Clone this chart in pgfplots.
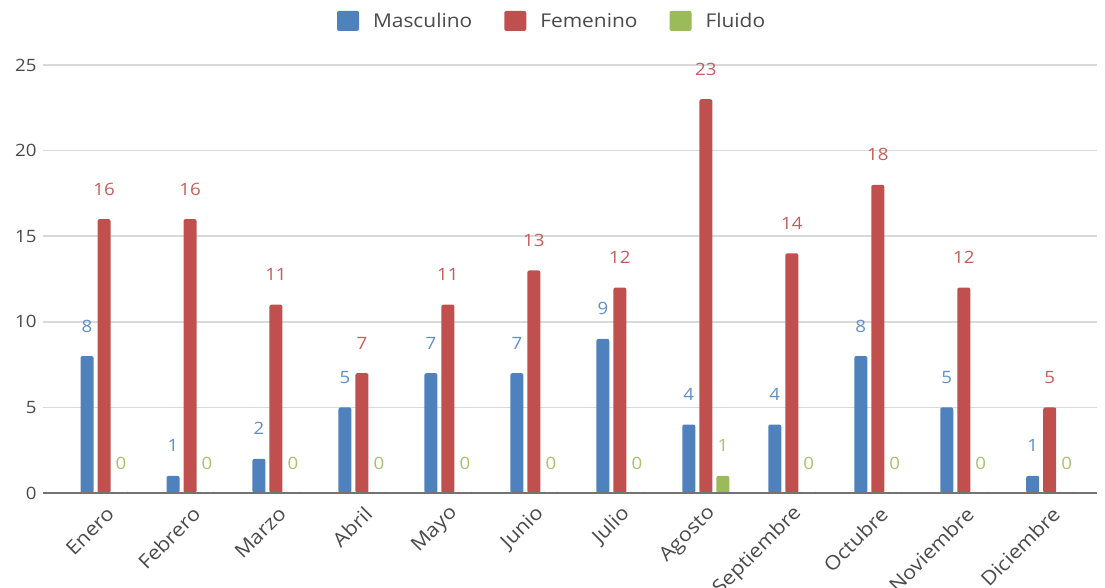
\documentclass[border=0pt]{standalone}
\usepackage{fontspec}
\setmainfont[FakeStretch=1.1]{Open Sans}
\usepackage{pgfplots}
\pgfplotsset{compat=1.18}
\definecolor{cblue}{HTML}{4F81BD}
\definecolor{cred}{HTML}{C0504D}
\definecolor{cgreen}{HTML}{9BBB59}
\definecolor{lblue}{HTML}{5F8FCB}
\definecolor{lred}{HTML}{C55E5B}
\definecolor{lgreen}{HTML}{A5C46A}
\definecolor{txt}{HTML}{4A4A4A}
\begin{document}
\begin{tikzpicture}
\path[use as bounding box] (-43pt,-95pt) rectangle (1062pt,493pt);
\begin{axis}[
  scale only axis,
  width=1054pt, height=428pt,
  ybar=4pt, bar width=13pt,
  xmin=-0.71, xmax=11.55,
  ymin=0, ymax=25,
  ytick={0,5,...,25},
  xtick={0,...,11},
  xticklabels={Enero,Febrero,Marzo,Abril,Mayo,Junio,Julio,Agosto,Septiembre,Octubre,Noviembre,Diciembre},
  axis line style={draw=none},
  major tick length=0pt,
  ymajorgrids,
  grid style={draw=black!15, line width=1.5pt},
  font=\fontsize{17}{20}\selectfont,
  tick label style={text=txt},
  /pgf/number format/assume math mode=true,
  yticklabel style={xshift=-3pt},
  xticklabel style={font=\fontsize{19.5}{23}\selectfont, xshift=9pt, yshift=-15pt, rotate=45, anchor=east},
  nodes near coords,
  nodes near coords style={anchor=center, yshift=30pt, font=\fontsize{17}{20}\selectfont},
  legend style={draw=none, fill=none, at={(rel axis cs:0.483,1.103)}, anchor=center,
    legend columns=3, text=txt, font=\fontsize{19}{22}\selectfont,
    /tikz/every odd column/.append style={column sep=12pt},
    /tikz/every even column/.append style={column sep=30pt}},
  clip=false,
]
\addplot+[draw=none, fill=cblue, rounded corners=2pt,
  every node near coord/.append style={text=lblue},
  legend image code/.code={\fill[cblue] (0pt,-10pt) rectangle (22pt,10pt);}]
  coordinates {(0,8) (1,1) (2,2) (3,5) (4,7) (5,7) (6,9) (7,4) (8,4) (9,8) (10,5) (11,1)};
\addplot+[draw=none, fill=cred, rounded corners=2pt,
  every node near coord/.append style={text=lred},
  legend image code/.code={\fill[cred] (0pt,-10pt) rectangle (22pt,10pt);}]
  coordinates {(0,16) (1,16) (2,11) (3,7) (4,11) (5,13) (6,12) (7,23) (8,14) (9,18) (10,12) (11,5)};
\addplot+[draw=none, fill=cgreen, rounded corners=2pt,
  every node near coord/.append style={text=lgreen},
  legend image code/.code={\fill[cgreen] (0pt,-10pt) rectangle (22pt,10pt);}]
  coordinates {(0,0) (1,0) (2,0) (3,0) (4,0) (5,0) (6,0) (7,1) (8,0) (9,0) (10,0) (11,0)};
\legend{Masculino,Femenino,Fluido}
\draw[black!55, line width=1.5pt] (rel axis cs:0,0) -- (rel axis cs:1,0);
\end{axis}
\end{tikzpicture}
\end{document}
